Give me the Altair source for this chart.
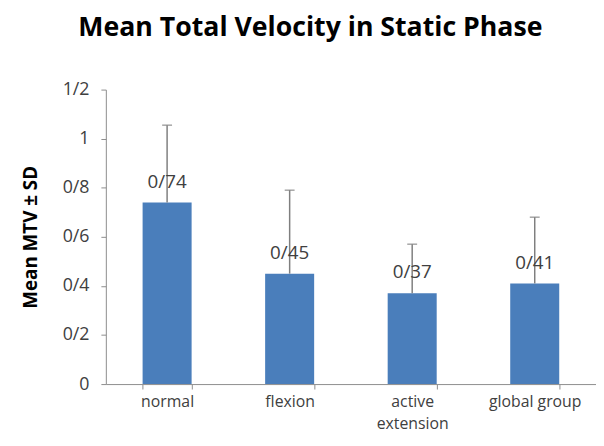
import altair as alt
import pandas as pd

categories = ["normal", "flexion", "active extension", "global group"]
means = [0.74, 0.45, 0.37, 0.41]
sds = [0.315, 0.34, 0.20, 0.27]
y_ticks = [0, 0.2, 0.4, 0.6, 0.8, 1.0, 1.2]

df = pd.DataFrame({"cat": categories, "mean": means, "sd": sds})
df["upper"] = df["mean"] + df["sd"]
df["label"] = [f"{m:.2f}".replace(".", "/") for m in means]

FONT = "Open Sans"
TXT = "#404040"

x = alt.X("cat:N", sort=categories,
          scale=alt.Scale(paddingInner=0.6, paddingOuter=0.3),
          axis=alt.Axis(title=None, tickBand="extent", labelAngle=0,
                        labelFont=FONT, labelFontSize=16, labelColor=TXT,
                        domainColor="#8c8c8c", tickColor="#8c8c8c", tickSize=5,
                        labelPadding=5, labelLineHeight=22,
                        labelExpr="datum.label == 'active extension' ? ['active', 'extension'] : datum.label"))

y = alt.Y("mean:Q",
          scale=alt.Scale(domain=[0, 1.2], nice=False),
          axis=alt.Axis(title="Mean MTV \u00b1 SD", values=y_ticks, grid=False,
                        labelExpr="replace(format(datum.value, '.1~f'), '.', '/')",
                        labelFont=FONT, labelFontSize=18, labelColor=TXT,
                        labelPadding=12,
                        titleFont=FONT, titleFontSize=19, titleFontWeight="bold",
                        titleColor="#000000", titlePadding=22,
                        domainColor="#8c8c8c", tickColor="#8c8c8c", tickSize=5))

bars = alt.Chart(df).mark_bar(color="#4a7ebb").encode(x=x, y=y)

err = alt.Chart(df).mark_rule(color="#7f7f7f", strokeWidth=1.5).encode(
    x=alt.X("cat:N", sort=categories), y="mean:Q", y2="upper:Q")

caps = alt.Chart(df).mark_tick(color="#7f7f7f", thickness=1.5, size=10, orient="horizontal").encode(
    x=alt.X("cat:N", sort=categories), y="upper:Q")

labels = alt.Chart(df).mark_text(font=FONT, fontSize=19, color=TXT, dy=-21, baseline="middle").encode(
    x=alt.X("cat:N", sort=categories), y="mean:Q", text="label:N")

chart = alt.layer(bars, err, caps, labels).properties(
    width=496, height=298,
    title=alt.TitleParams("Mean Total Velocity in Static Phase", font=FONT, fontSize=27,
                          fontWeight="bold", color="#000000", dx=-41, offset=39),
    autosize=alt.AutoSizeParams(type="none"),
    padding={"left": 99, "top": 80, "right": 0, "bottom": 52},
).configure_view(stroke=None)

chart.save("out.html", embed_options={"renderer": "svg", "actions": False})
